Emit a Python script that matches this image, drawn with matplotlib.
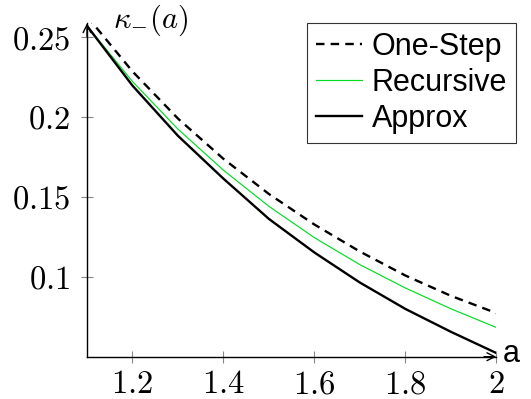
import matplotlib
matplotlib.use("Agg")
import matplotlib.pyplot as plt

# ---- data ----
a_vals = [1.1, 1.2, 1.3, 1.4, 1.5, 1.6, 1.7, 1.8, 1.9, 2.0]
one_step = [0.263, 0.2285, 0.1990, 0.1738, 0.1518, 0.1327, 0.1158, 0.1008, 0.0881, 0.0773]
recursive = [0.257, 0.2222, 0.1924, 0.1667, 0.1441, 0.1245, 0.1076, 0.0930, 0.0800, 0.0683]
approx = [0.257, 0.2196, 0.1882, 0.1614, 0.1362, 0.1152, 0.0964, 0.0799, 0.0656, 0.0523]

x_ticks = [1.2, 1.4, 1.6, 1.8, 2.0]
x_tick_labels = ["1.2", "1.4", "1.6", "1.8", "2"]
y_ticks = [0.1, 0.15, 0.2, 0.25]
y_tick_labels = ["0.1", "0.15", "0.2", "0.25"]
series_names = ["One-Step", "Recursive", "Approx"]

plt.rcParams["mathtext.fontset"] = "cm"
plt.rcParams["font.family"] = ["Liberation Sans", "DejaVu Sans"]

W, H = 531, 399
fig = plt.figure(figsize=(W / 100, H / 100), dpi=100)
left, right, top, bottom = 87, 496.3, 23.3, 356.7
ax = fig.add_axes([left / W, 1 - bottom / H, (right - left) / W, (bottom - top) / H])

ax.plot(a_vals, one_step, color="black", lw=1.7, ls=(0, (3.6, 2.6)), label=series_names[0])
ax.plot(a_vals, recursive, color="#00dd22", lw=0.85, label=series_names[1])
ax.plot(a_vals, approx, color="black", lw=1.7, label=series_names[2])

ax.set_xlim(1.1, 2.0)
ax.set_ylim(0.05, 0.2586)

for s in ["top", "right"]:
    ax.spines[s].set_visible(False)
for s in ["left", "bottom"]:
    ax.spines[s].set_linewidth(1.0)
    ax.spines[s].set_color("black")

# arrowheads
ax.annotate("", xy=(1.0, 0), xytext=(0.97, 0), xycoords="axes fraction",
            arrowprops=dict(arrowstyle="->", color="black", lw=1.0,
                            mutation_scale=14, shrinkA=0, shrinkB=0))
ax.annotate("", xy=(0, 1.0), xytext=(0, 0.96), xycoords="axes fraction",
            arrowprops=dict(arrowstyle="->", color="black", lw=1.0,
                            mutation_scale=14, shrinkA=0, shrinkB=0))

ax.set_xticks(x_ticks)
ax.set_xticklabels(["$" + t + "$" for t in x_tick_labels])
ax.set_yticks(y_ticks)
ax.set_yticklabels(["$" + t + "$" for t in y_tick_labels])
ax.tick_params(axis="both", direction="inout", length=8, width=0.8,
               color="#888888", labelsize=23.5, labelcolor="black")
ax.tick_params(axis="x", pad=5)
ax.tick_params(axis="y", pad=8)

fig.text(113 / W, 1 - 20 / H, r"$\kappa_{-}(a)$", fontsize=22, ha="left", va="center")
fig.text(503 / W, 1 - 354 / H, "a", fontsize=22, ha="left", va="center")

leg = ax.legend(loc="upper right", bbox_to_anchor=(516 / W, 1 - 22.7 / H),
                bbox_transform=fig.transFigure, borderaxespad=0,
                fontsize=22, frameon=True, fancybox=False, handlelength=1.5,
                handletextpad=0.3, labelspacing=0.2, borderpad=0.3)
leg.get_frame().set_edgecolor("black")
leg.get_frame().set_linewidth(0.8)

fig.savefig("out.png", dpi=100)
